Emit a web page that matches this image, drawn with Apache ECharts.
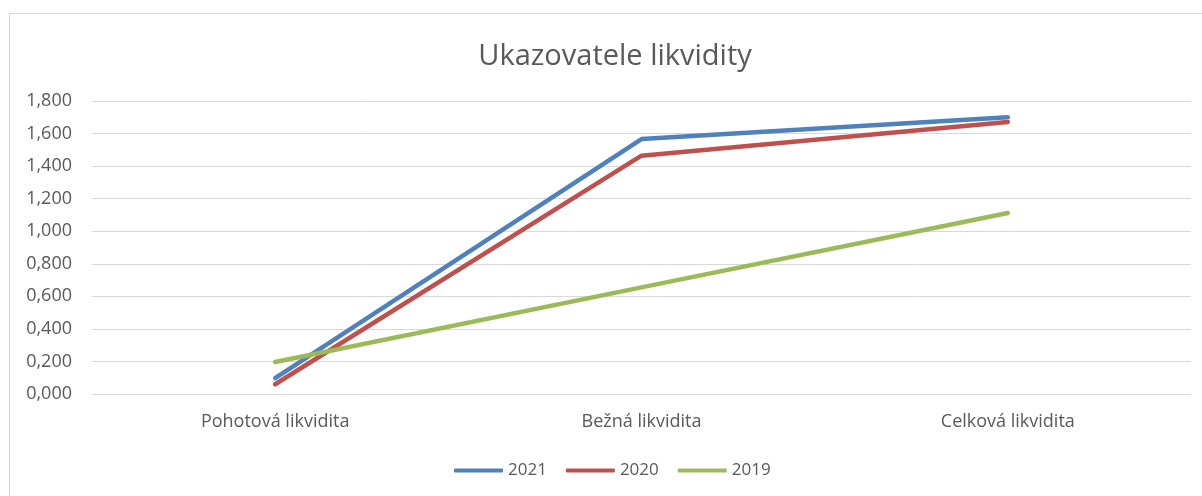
<!DOCTYPE html>
<html>
<head>
<meta charset="utf-8">
<script src="https://cdn.jsdelivr.net/npm/echarts@6/dist/echarts.min.js"></script>
<style>
html,body{margin:0;padding:0;background:#fff;}
#frame{position:absolute;left:9px;top:13px;width:1210px;height:500px;border:1px solid #d9d9d9;}
#likvidita{position:absolute;left:0;top:0;width:1202px;height:496px;}
</style>
</head>
<body>
<div id="frame"></div>
<div id="likvidita"></div>
<script>
var categories = ['Pohotová likvidita', 'Bežná likvidita', 'Celková likvidita'];
var years = ['2021', '2020', '2019'];
var data2021 = [0.098, 1.566, 1.700];
var data2020 = [0.060, 1.464, 1.671];
var data2019 = [0.197, 0.655, 1.112];
var colors = ['#4f81bd', '#c0504d', '#9bbb59'];

var chart = echarts.init(document.getElementById('likvidita'));

function line(name, values, color) {
    return {
        name: name,
        type: 'line',
        data: values,
        symbol: 'none',
        lineStyle: {width: 4.5, color: color, cap: 'round', join: 'round'},
        itemStyle: {color: color}
    };
}

var option = {
    animation: false,
    textStyle: {fontFamily: 'Open Sans'},
    title: {
        text: 'Ukazovatele likvidity',
        left: 610,
        textAlign: 'center',
        top: 37,
        textStyle: {fontSize: 29, fontWeight: 'normal', color: '#595959', fontFamily: 'Open Sans'}
    },
    legend: {
        top: 457,
        left: 449,
        itemWidth: 49,
        itemHeight: 4,
        itemGap: 19,
        icon: 'roundRect',
        textStyle: {fontSize: 17, color: '#595959'},
        data: years
    },
    grid: {left: 92, right: 11, top: 101, bottom: 102},
    xAxis: {
        type: 'category',
        data: categories,
        boundaryGap: true,
        axisLine: {show: false},
        axisTick: {show: false},
        axisLabel: {fontSize: 18, color: '#595959', margin: 19}
    },
    yAxis: {
        type: 'value',
        min: 0,
        max: 1.8,
        interval: 0.2,
        axisLine: {show: false},
        axisTick: {show: false},
        splitLine: {lineStyle: {color: '#d9d9d9', width: 1}},
        axisLabel: {
            fontSize: 18,
            color: '#595959',
            margin: 20,
            formatter: function (v) {
                return v.toFixed(3).replace('.', ',').replace(/^(\d)(\d{3})/, '$1,$2');
            }
        }
    },
    series: [
        line('2021', data2021, colors[0]),
        line('2020', data2020, colors[1]),
        line('2019', data2019, colors[2])
    ]
};
chart.setOption(option);
</script>
</body>
</html>
